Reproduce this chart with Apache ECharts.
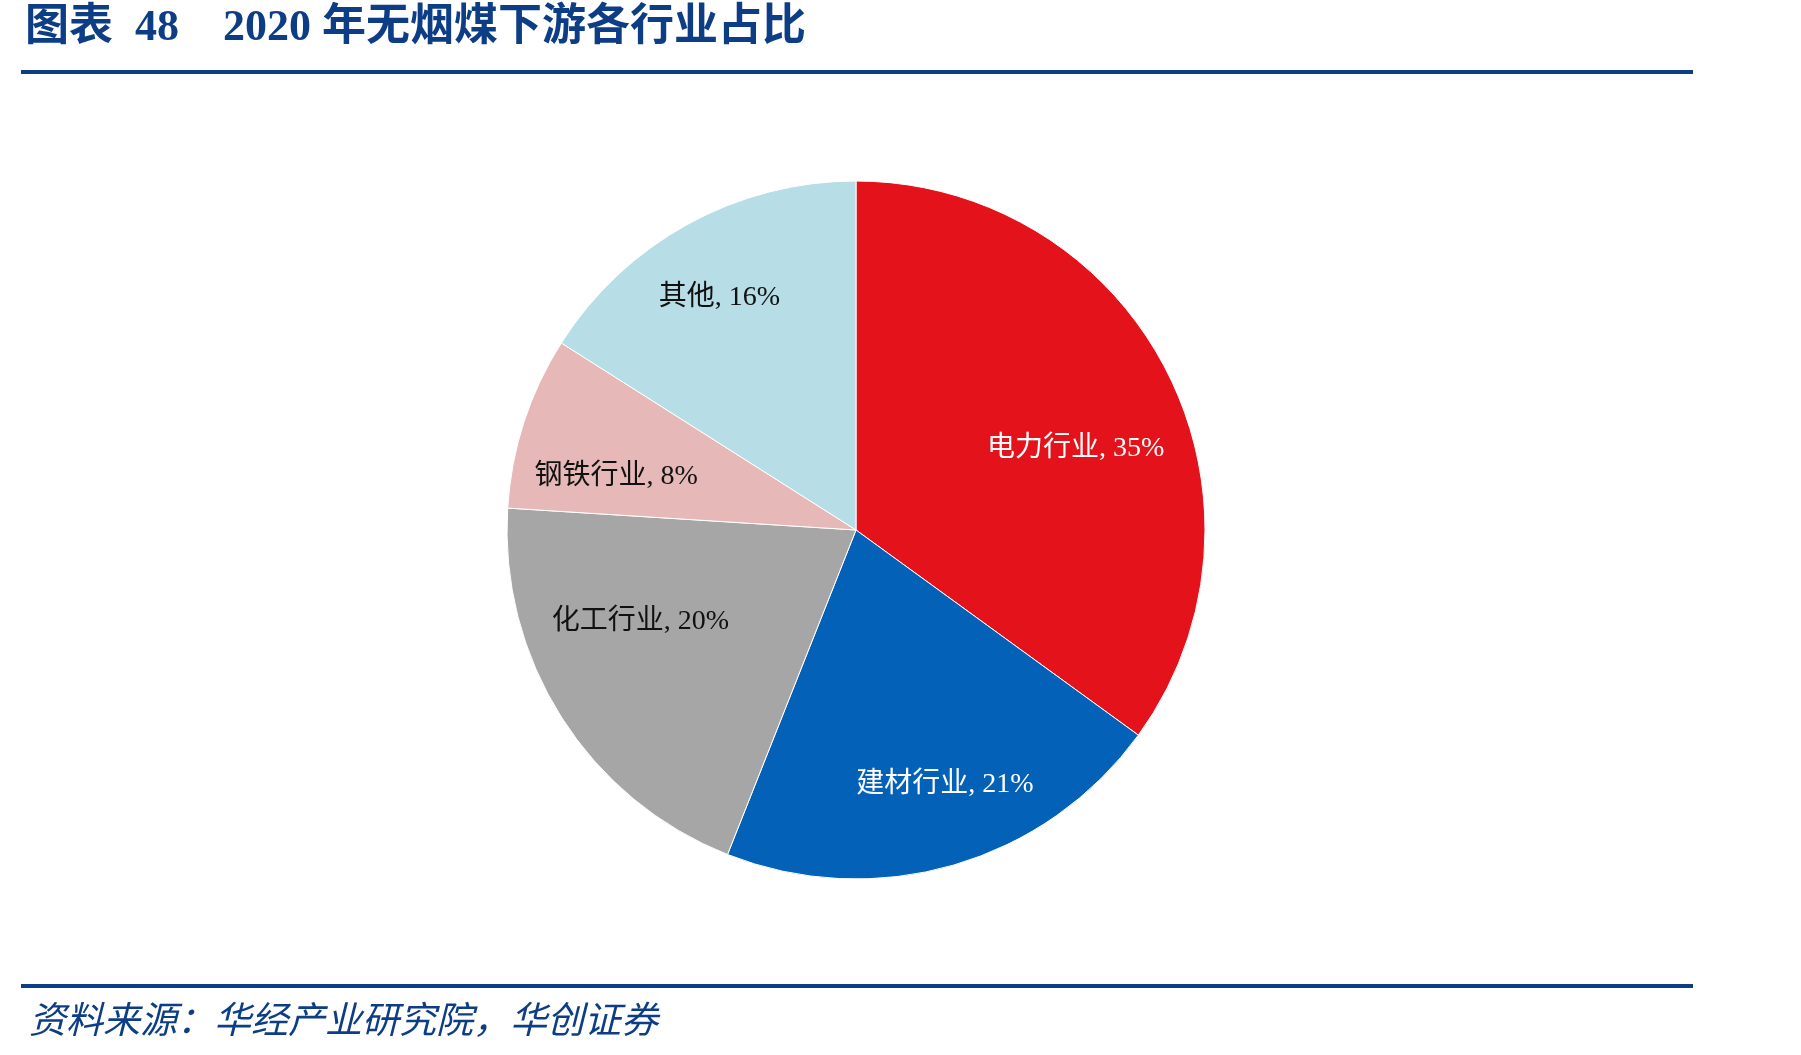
<!DOCTYPE html>
<html>
<head>
<meta charset="utf-8">
<script src="https://cdn.jsdelivr.net/npm/echarts@6/dist/echarts.min.js"></script>
<style>
html,body{margin:0;padding:0;background:#fff;}
#chart{width:1801px;height:1055px;}
</style>
</head>
<body>
<div id="chart"></div>
<script>
const categories = ['电力行业', '建材行业', '化工行业', '钢铁行业', '其他'];
const shares = [35, 21, 20, 8, 16];
const sliceColors = ['#E4121B', '#0361B8', '#A6A6A6', '#E6B8B7', '#B7DDE7'];
const labelColors = ['#ffffff', '#ffffff', '#111111', '#111111', '#111111'];
const titleText = '图表  48    2020 年无烟煤下游各行业占比';
const sourceText = '资料来源：华经产业研究院，华创证券';

// layout (not data): small label nudges, in px
const labelNudge = [[-7, 34], [18, 10], [-1, -45], [2, 25], [-14, -10]];

const chart = echarts.init(document.getElementById('chart'));
const cx = 856, cy = 530, R = 349;
const navy = '#0C3D85';
const serif = '"Liberation Serif", "Noto Sans CJK SC", serif';

const baseData = categories.map((n, i) => ({
  name: n, value: shares[i], itemStyle: { color: sliceColors[i] }
}));
const labelData = categories.map((n, i) => ({
  name: n, value: shares[i], label: { color: labelColors[i], offset: labelNudge[i] }
}));

chart.setOption({
  animation: false,
  title: [
    { text: titleText, left: 20, top: 2,
      textStyle: { color: navy, fontSize: 44, fontWeight: 'bold', fontFamily: serif } },
    { text: sourceText, left: 24, top: 1000,
      textStyle: { color: navy, fontSize: 37, fontWeight: 'normal', fontStyle: 'italic', fontFamily: serif } }
  ],
  graphic: [
    { type: 'rect', shape: { x: 21, y: 70, width: 1672, height: 4 }, style: { fill: navy } },
    { type: 'rect', shape: { x: 21, y: 984, width: 1672, height: 4 }, style: { fill: navy } }
  ],
  series: [
    {
      type: 'pie', center: [cx, cy], radius: [0, R], startAngle: 90, clockwise: true,
      avoidLabelOverlap: false, label: { show: false }, labelLine: { show: false },
      itemStyle: { borderColor: '#ffffff', borderWidth: 1 },
      emphasis: { disabled: true },
      data: baseData
    },
    {
      type: 'pie', center: [cx, cy], radius: [R * 0.44, R], startAngle: 90, clockwise: true,
      silent: true, avoidLabelOverlap: false,
      itemStyle: { color: 'rgba(0,0,0,0)' },
      label: { show: true, position: 'inside', formatter: '{b}, {c}%', fontSize: 28, fontFamily: serif },
      labelLine: { show: false },
      data: labelData
    }
  ]
});
</script>
</body>
</html>
